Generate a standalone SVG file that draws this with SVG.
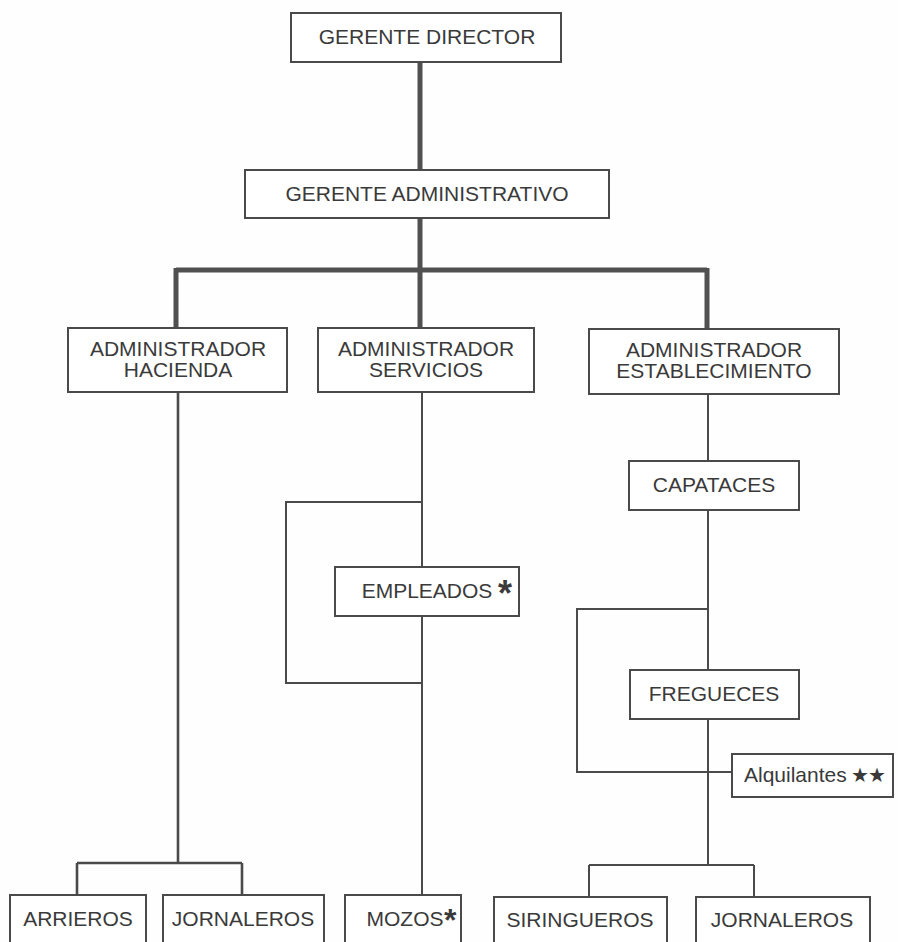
<svg xmlns="http://www.w3.org/2000/svg" width="898" height="942" viewBox="0 0 898 942">
  <style>
    .box { fill: #ffffff; stroke: #4a4a4a; stroke-width: 2; }
    .lbl { font-family: "Liberation Sans", Arial, Helvetica, sans-serif; font-size: 21px; fill: #3a3a3a; text-anchor: middle; }
    .lbl-s { font-family: "Liberation Sans", Arial, Helvetica, sans-serif; font-size: 21px; fill: #3a3a3a; }
    .mark { font-family: "Liberation Sans", Arial, sans-serif; font-weight: bold; fill: #3a3a3a; }
    .star { font-family: "DejaVu Sans", sans-serif; fill: #3a3a3a; }
    .thick { fill: none; stroke: #505050; stroke-width: 5; }
    .mid { fill: none; stroke: #4a4a4a; stroke-width: 2.6; }
    .thin { fill: none; stroke: #4a4a4a; stroke-width: 2; }
  </style>
  <rect width="898" height="942" fill="#fefefe"/>

  <g id="connectors">
    <!-- top management spine -->
    <path class="thick" d="M420 62 V170 M420 218 V328 M176 270 H707 M176 268 V328 M707 268 V329"/>
    <!-- hacienda branch -->
    <path class="mid" d="M178 392 V863 M77 863 H242 M77 863 V895 M242 863 V895"/>
    <!-- servicios branch with loop to empleados -->
    <path class="thin" d="M422 392 V895 M422 502 H286 V683 H422"/>
    <!-- establecimiento branch -->
    <path class="thin" d="M708 394 V461 M708 510 V670 M708 719 V865 M708 609 H577 V772 H732 M589 865 H754 M589 865 V897 M754 865 V897"/>
  </g>

  <g id="gerente-director">
    <rect class="box" x="291" y="13" width="270" height="49"/>
    <text class="lbl" x="427" y="44">GERENTE DIRECTOR</text>
  </g>
  <g id="gerente-administrativo">
    <rect class="box" x="245" y="170" width="364" height="48"/>
    <text class="lbl" x="427" y="201">GERENTE ADMINISTRATIVO</text>
  </g>

  <g id="admin-hacienda">
    <rect class="box" x="68" y="328" width="219" height="64"/>
    <text class="lbl" x="178" y="356">ADMINISTRADOR</text>
    <text class="lbl" x="178" y="377">HACIENDA</text>
  </g>
  <g id="admin-servicios">
    <rect class="box" x="318" y="328" width="216" height="64"/>
    <text class="lbl" x="426" y="356">ADMINISTRADOR</text>
    <text class="lbl" x="426" y="377">SERVICIOS</text>
  </g>
  <g id="admin-establecimiento">
    <rect class="box" x="589" y="329" width="250" height="65"/>
    <text class="lbl" x="714" y="357">ADMINISTRADOR</text>
    <text class="lbl" x="714" y="378">ESTABLECIMIENTO</text>
  </g>

  <g id="empleados">
    <rect class="box" x="335" y="567" width="184" height="49"/>
    <text class="lbl" x="427" y="598">EMPLEADOS</text>
    <text class="mark" x="498" y="606" font-size="36">*</text>
  </g>

  <g id="capataces">
    <rect class="box" x="629" y="461" width="170" height="49"/>
    <text class="lbl" x="714" y="492">CAPATACES</text>
  </g>
  <g id="fregueces">
    <rect class="box" x="630" y="670" width="169" height="49"/>
    <text class="lbl" x="714" y="701">FREGUECES</text>
  </g>
  <g id="alquilantes">
    <rect class="box" x="732" y="754" width="161" height="43"/>
    <text class="lbl-s" x="744" y="782">Alquilantes</text>
    <text class="star" x="851" y="782" font-size="20" letter-spacing="-1">★★</text>
  </g>

  <g id="arrieros">
    <rect class="box" x="10" y="895" width="136" height="52"/>
    <text class="lbl" x="78" y="926">ARRIEROS</text>
  </g>
  <g id="jornaleros-hacienda">
    <rect class="box" x="163" y="895" width="161" height="52"/>
    <text class="lbl" x="243" y="926">JORNALEROS</text>
  </g>
  <g id="mozos">
    <rect class="box" x="345" y="895" width="116" height="52"/>
    <text class="lbl" x="405" y="926">MOZOS</text>
    <text class="mark" x="444" y="931" font-size="32">*</text>
  </g>
  <g id="siringueros">
    <rect class="box" x="494" y="897" width="173" height="50"/>
    <text class="lbl" x="580" y="927">SIRINGUEROS</text>
  </g>
  <g id="jornaleros-establecimiento">
    <rect class="box" x="696" y="897" width="174" height="50"/>
    <text class="lbl" x="782" y="927">JORNALEROS</text>
  </g>
</svg>
